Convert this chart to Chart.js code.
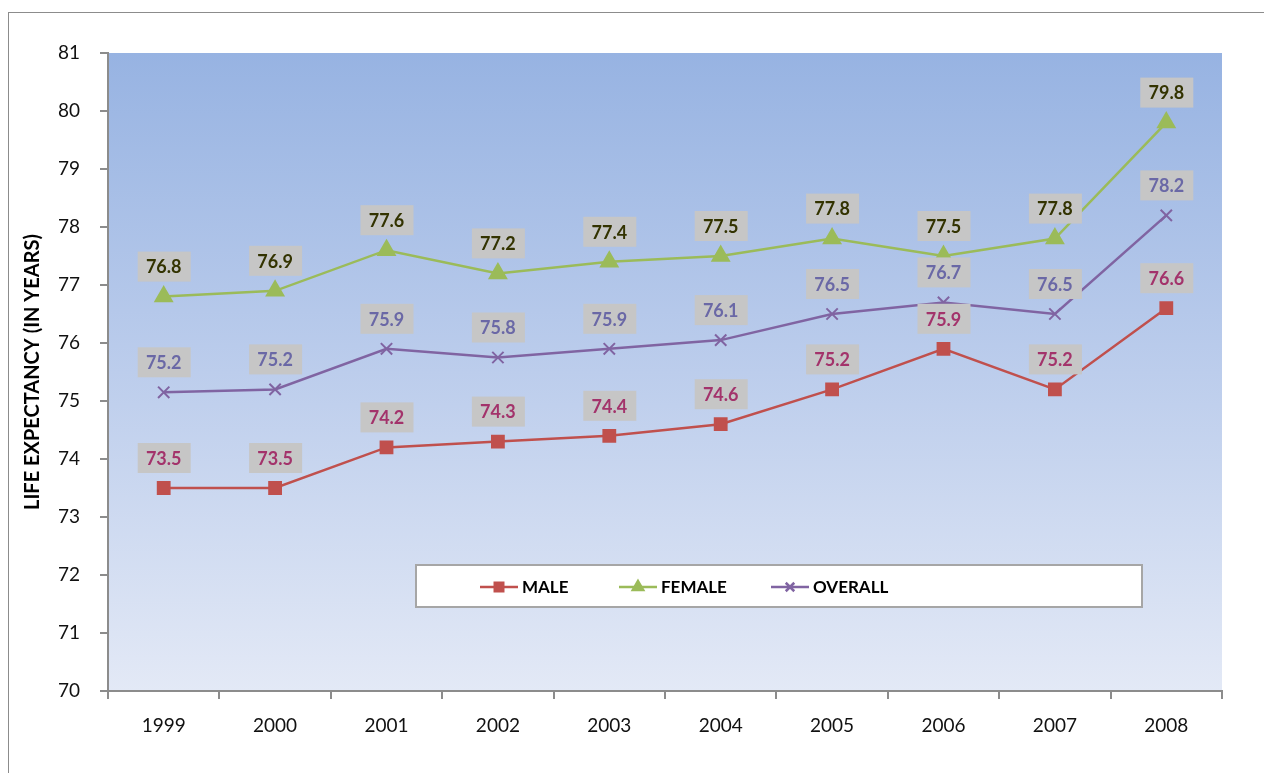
<!DOCTYPE html>
<html>
<head>
<meta charset="utf-8">
<script src="https://cdn.jsdelivr.net/npm/chart.js@4"></script>
<style>
  body { margin: 0; background: #fff; overflow: hidden; }
  #frame { position: absolute; left: 8px; top: 12px; width: 1300px; height: 800px;
           border-left: 1px solid #8c8c8c; border-top: 1px solid #8c8c8c; }
  #wrap { position: absolute; left: 0; top: 0; width: 1264px; height: 773px; }
</style>
</head>
<body>
<div id="frame"></div>
<div id="wrap"><canvas id="lifeChart"></canvas></div>
<script>
const years = ["1999", "2000", "2001", "2002", "2003", "2004", "2005", "2006", "2007", "2008"];
const male = [73.5, 73.5, 74.2, 74.3, 74.4, 74.6, 75.2, 75.9, 75.2, 76.6];
const female = [76.8, 76.9, 77.6, 77.2, 77.4, 77.5, 77.8, 77.5, 77.8, 79.8];
const overall = [75.15, 75.2, 75.9, 75.75, 75.9, 76.05, 76.5, 76.7, 76.5, 78.2];
const overallLabels = ["75.2", "75.2", "75.9", "75.8", "75.9", "76.1", "76.5", "76.7", "76.5", "78.2"];

const FONT = "Lato, 'Open Sans', sans-serif";

// gradient behind the plot area
const plotBackground = {
  id: "plotBackground",
  beforeDraw(chart) {
    const { ctx, chartArea: a } = chart;
    const g = ctx.createLinearGradient(0, a.top, 0, a.bottom);
    g.addColorStop(0, "#97b3e2");
    g.addColorStop(0.5, "#bccdec");
    g.addColorStop(1, "#e3e9f6");
    ctx.save();
    ctx.fillStyle = g;
    ctx.fillRect(a.left, a.top, a.right - a.left, a.bottom - a.top);
    ctx.restore();
  }
};

// grey boxes with the values above every point
const valueBoxes = {
  id: "valueBoxes",
  afterDatasetsDraw(chart) {
    const ctx = chart.ctx;
    ctx.save();
    ctx.font = "bold 18px " + FONT;
    ctx.textAlign = "center";
    ctx.textBaseline = "middle";
    chart.data.datasets.forEach((ds, i) => {
      const meta = chart.getDatasetMeta(i);
      meta.data.forEach((pt, j) => {
        const txt = ds.labelText ? ds.labelText[j] : ds.data[j].toFixed(1);
        const cx = pt.x, cy = pt.y - 30;
        ctx.fillStyle = "#c6c6c6";
        ctx.fillRect(cx - 26, cy - 15, 53, 30);
        ctx.fillStyle = ds.labelColor;
        ctx.fillText(txt, cx, cy + 1);
      });
    });
    ctx.restore();
  }
};

// legend box inside the plot area
const legendBox = {
  id: "legendBox",
  afterDraw(chart) {
    const ctx = chart.ctx;
    ctx.save();
    ctx.fillStyle = "#ffffff";
    ctx.fillRect(416, 565, 726, 42);
    ctx.strokeStyle = "#a6a6a6";
    ctx.lineWidth = 2;
    ctx.strokeRect(416, 565, 726, 42);
    const items = [
      { text: "MALE", x: 480, color: "#c0504d", style: "rect" },
      { text: "FEMALE", x: 619, color: "#9bbb59", style: "triangle" },
      { text: "OVERALL", x: 771, color: "#8064a2", style: "crossRot" }
    ];
    const y = 587;
    ctx.font = "bold 17px " + FONT;
    ctx.textBaseline = "middle";
    items.forEach(it => {
      ctx.strokeStyle = it.color;
      ctx.fillStyle = it.color;
      ctx.lineWidth = 2.5;
      ctx.beginPath();
      ctx.moveTo(it.x, y);
      ctx.lineTo(it.x + 38, y);
      ctx.stroke();
      Chart.helpers.drawPoint(ctx, { pointStyle: it.style, radius: 6, borderWidth: 2 }, it.x + 19, y);
      ctx.fillStyle = "#000";
      ctx.fillText(it.text, it.x + 42, y + 1);
    });
    ctx.restore();
  }
};

new Chart(document.getElementById("lifeChart").getContext("2d"), {
  type: "line",
  data: {
    labels: years,
    datasets: [
      {
        label: "MALE",
        data: male,
        borderColor: "#c0504d",
        backgroundColor: "#c0504d",
        pointStyle: "rect",
        pointRadius: 8,
        borderWidth: 2.5,
        labelColor: "#a3336b"
      },
      {
        label: "FEMALE",
        data: female,
        borderColor: "#9bbb59",
        backgroundColor: "#9bbb59",
        pointStyle: "triangle",
        pointRadius: 9,
        borderWidth: 2.5,
        labelColor: "#333300"
      },
      {
        label: "OVERALL",
        data: overall,
        labelText: overallLabels,
        borderColor: "#8064a2",
        backgroundColor: "#8064a2",
        pointStyle: "crossRot",
        pointRadius: 8,
        pointBorderWidth: 2,
        borderWidth: 2.5,
        labelColor: "#6a68a6"
      }
    ]
  },
  options: {
    responsive: true,
    maintainAspectRatio: false,
    animation: false,
    layout: { padding: { left: 0, right: 42, top: 53, bottom: 0 } },
    plugins: {
      legend: { display: false },
      tooltip: { enabled: false }
    },
    scales: {
      x: {
        offset: true,
        afterFit(scale) { scale.height = 82; },
        grid: { offset: true, drawOnChartArea: false, drawTicks: true, tickLength: 8, color: "#8c8c8c", lineWidth: 2 },
        border: { color: "#8c8c8c", width: 2 },
        ticks: { color: "#111", font: { family: FONT, size: 19 }, padding: 15 }
      },
      y: {
        min: 70,
        max: 81,
        afterFit(scale) { scale.width = 108; },
        grid: { drawOnChartArea: false, drawTicks: true, tickLength: 8, color: "#8c8c8c", lineWidth: 2 },
        border: { color: "#8c8c8c", width: 2 },
        ticks: { stepSize: 1, color: "#111", font: { family: FONT, size: 19 }, padding: 20 },
        title: {
          display: true,
          text: "LIFE EXPECTANCY (IN YEARS)",
          color: "#000",
          font: { family: FONT, size: 20, weight: "bold" },
          padding: { top: 21, bottom: 0 }
        }
      }
    }
  },
  plugins: [plotBackground, valueBoxes, legendBox]
});
</script>
</body>
</html>
